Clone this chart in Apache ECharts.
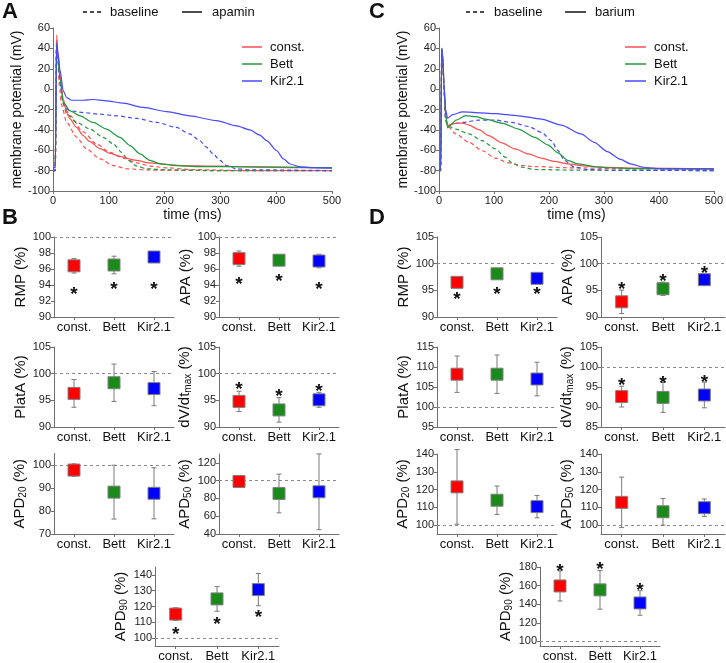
<!DOCTYPE html>
<html><head><meta charset="utf-8">
<script src="https://cdn.jsdelivr.net/npm/echarts@6/dist/echarts.min.js"></script>
<style>html,body{margin:0;padding:0;background:#fff}#c{width:726px;height:663px}</style>
</head><body><div id="c"></div>
<script>
const FONT = '"Liberation Sans", Arial, Helvetica, sans-serif';
const cats = ['const.', 'Bett', 'Kir2.1'];
const boxColors = ['#ff0000', '#1a8a1a', '#0000ff'];
const red = '#ff4f4f', green = '#1f9a3f', blue = '#4848ff';

// ---- Panel A: action potentials, baseline vs apamin [time ms, mV]
const apaConstSolid = [[0,-77],[4,-77],[6.5,53],[9,35],[12.5,14],[18.5,-10],[24.5,-23],[30,-29],[42,-37.5],[54,-45.5],[66,-51.5],[84,-58.5],[102,-63],[120,-66],[144,-69.4],[174,-72.4],[204,-74],[233,-75],[293,-75.6],[353,-76.3],[420,-77],[500,-77.3]];
const apaConstBase1 = [[0,-80],[4,-80],[6.5,48],[9,25],[11.3,3],[15.5,-16],[24.5,-32.7],[42,-47],[60,-58.7],[84,-68.5],[108,-75],[132,-78.2],[174,-79.5],[300,-80],[500,-80]];
const apaConstBase2 = [[0,-80],[4,-80],[6.5,48],[9,28],[13,5],[18.5,-15],[30.5,-26],[54,-42],[78,-53.8],[102,-62],[126,-67.8],[150,-72.4],[174,-75.6],[204,-77.3],[250,-79],[350,-80],[500,-80]];
const apaBettSolid = [[0,-77],[4,-77],[6.5,45],[9,30],[12.5,10],[18.5,-13],[30.5,-21.3],[48.4,-26.2],[72,-32.7],[96,-39.2],[120,-47.3],[138,-55.4],[156,-63.6],[174,-70],[192,-73.3],[221,-75],[263,-76],[353,-76.3],[500,-77.3]];
const apaBettBase = [[0,-80],[4,-80],[6.5,45],[9,28],[13,5],[18.5,-14],[24.5,-24.6],[42.4,-32.7],[66,-39.2],[90,-47.3],[108,-53.8],[123,-62],[135,-70],[150,-75.6],[168,-78.2],[204,-79.2],[300,-80],[500,-80]];
const apaKirSolid = [[0,-77],[4,-77],[6.5,45],[9,35],[12.5,19],[18.5,-2],[24.5,-8.3],[33.4,-10.9],[54,-10.9],[72,-10.2],[96,-11.5],[126,-13.8],[162,-18],[204,-22],[245,-26.2],[293,-31],[329,-36],[353,-40],[370,-45],[383,-50.5],[401,-60.5],[413,-68.5],[425,-73.5],[443,-76.4],[470,-77.2],[500,-77.4]];
const apaKirBase = [[0,-80],[4,-80],[6.5,45],[9,30],[13,8],[17,-10],[21.5,-18],[30.5,-21.3],[54,-23],[84,-24.6],[114,-26.2],[150,-28.8],[186,-32.7],[221,-37.6],[245,-44],[263,-50.6],[275,-57],[287,-63.6],[299,-70],[311,-75],[329,-78.2],[353,-79.2],[500,-80]];

// ---- Panel C: action potentials, baseline vs barium
const baConstSolid = [[0,-79],[3,-79],[5,40],[7,30],[9,5],[12,-25],[15.6,-36],[22,-34.5],[30.6,-33.7],[42.6,-33.3],[54.5,-35.3],[72.5,-39.8],[90.5,-45.7],[114.5,-52.8],[138.5,-58.7],[162.5,-63.6],[186.4,-67.8],[210.4,-71],[234.4,-73.3],[264,-75.3],[294,-76.6],[354,-77.6],[500,-78.2]];
const baBettSolid = [[0,-79],[3,-79],[5,40],[7,30],[9,5],[12,-25],[15.6,-38],[22,-35],[30.6,-30.5],[48.6,-26],[66.5,-27],[84.5,-29.4],[114.5,-33.3],[144.5,-39.2],[174.4,-47.3],[198.4,-54.8],[216.4,-62.6],[234.4,-70],[252.4,-73.3],[282,-76],[306,-77.2],[360,-78],[500,-78.2]];
const baKirSolid = [[0,-79],[3,-79],[5,40],[7,30],[9,5],[12,-20],[15.6,-28.5],[25,-25],[42.6,-22.3],[66,-23],[102.5,-24],[144.5,-26.2],[186.4,-29.4],[222.4,-35.3],[258.4,-44],[282.4,-52.2],[306.3,-61.3],[330.3,-69],[348.3,-73.3],[372,-76.7],[403,-78.2],[500,-78.3]];
const baConstBase = [[0,-80],[3,-80],[5,40],[7,28],[9,0],[12,-30],[15,-36],[30.6,-44],[54.5,-52.2],[78.5,-60.3],[102.5,-67.8],[126.5,-72.4],[150.5,-75],[174.5,-76],[234,-77.2],[354,-78.2],[500,-79]];
const baBettBase = [[0,-80],[3,-80],[5,40],[7,28],[9,0],[12,-30],[15.6,-36],[30.6,-39.2],[54.5,-44],[78.5,-50.6],[102.5,-58.7],[120.5,-66.8],[132.5,-72.4],[150.5,-76.6],[174.5,-78.9],[250,-79.6],[500,-80]];
const baKirBase = [[0,-80],[3,-80],[5,40],[7,28],[9,0],[12,-28],[15.6,-36],[25,-34],[42.6,-32.7],[72.5,-30.4],[102.5,-30.4],[132.5,-32.7],[162.4,-36.6],[186.4,-42.4],[204.4,-50.6],[216.4,-60.3],[228.4,-70],[246.4,-76.6],[270,-78.9],[320,-79.6],[500,-80]];

// ---- Panel B (apamin, % of baseline): mean, error, asterisk level
const apaRMP_mean = [96.4, 96.5, 97.5],   apaRMP_err = [0.9, 1.1, 0.4],   apaRMP_star = [93.4, 94.0, 94.0];
const apaAPA_mean = [97.3, 97.1, 97.0],   apaAPA_err = [0.95, 0.3, 0.85], apaAPA_star = [94.7, 95.0, 94.0];
const apaPlatA_mean = [96.3, 98.3, 97.2], apaPlatA_err = [2.6, 3.5, 3.2];
const apaDVDT_mean = [94.8, 93.2, 95.1],  apaDVDT_err = [1.9, 2.3, 1.4],  apaDVDT_star = [98.0, 96.6, 97.6];
const apaAPD20_mean = [97.8, 88.2, 87.7], apaAPD20_err = [2.7, 11.7, 11.1];
const apaAPD50_mean = [99.1, 85.6, 87.5], apaAPD50_err = [1.5, 21.8, 42.6];
const apaAPD90_mean = [115.2, 124.8, 130.7], apaAPD90_err = [4.0, 7.8, 10.2], apaAPD90_star = [105.3, 111.6, 116.2];

// ---- Panel D (barium, % of baseline)
const baRMP_mean = [96.5, 98.1, 97.25],  baRMP_err = [0.4, 0.4, 0.4],   baRMP_star = [94.15, 95.2, 95.2];
const baAPA_mean = [92.85, 95.3, 97.0],  baAPA_err = [2.2, 1.25, 1.05], baAPA_star = [96.0, 97.6, 99.1];
const baPlatA_mean = [108.2, 108.2, 107.0], baPlatA_err = [4.55, 4.8, 4.2];
const baDVDT_mean = [92.6, 92.4, 93.0],  baDVDT_err = [2.6, 3.75, 3.2], baDVDT_star = [96.6, 97.1, 97.4];
const baAPD20_mean = [121.5, 114.0, 110.4], baAPD20_err = [21, 8, 6.3];
const baAPD50_mean = [112.8, 107.5, 109.8], baAPD50_err = [14.2, 7.5, 4.9];
const baAPD90_mean = [159.6, 155.4, 141.3], baAPD90_err = [16.2, 20.8, 13.2], baAPD90_star = [180.7, 182.8, 159.6];

// tick label lists
const ticksB_APD20 = [70, 80, 90, 100];
const ticksB_APD50 = [40, 60, 80, 100, 120];
const ticksB_APD90 = [100, 110, 120, 130, 140];
const ticksD_APD = [100, 110, 120, 130, 140];
const ticksD_APD90 = [100, 120, 140, 160, 180];

const RICH = {
  n: {fontSize: 15, color: '#111', fontFamily: FONT, lineHeight: 17},
  s: {fontSize: 10, color: '#111', fontFamily: FONT, lineHeight: 10, verticalAlign: 'bottom'}
};

const grids = [], xAxes = [], yAxes = [], series = [];
const axisGray = '#6f6f6f';

function addTracePanel(box, traces) {
  const gi = grids.length;
  grids.push({left: box[0], top: box[1], width: box[2], height: box[3]});
  xAxes.push({gridIndex: gi, type: 'value', min: 0, max: 500, interval: 100,
    name: 'time (ms)', nameLocation: 'middle', nameGap: 17,
    nameTextStyle: {fontSize: 14, color: '#111', fontFamily: FONT},
    axisLine: {show: true, onZero: false, lineStyle: {color: axisGray}},
    axisTick: {show: true, length: 3, lineStyle: {color: axisGray}},
    axisLabel: {fontSize: 11, color: '#222', margin: 4, fontFamily: FONT},
    splitLine: {show: false}});
  yAxes.push({gridIndex: gi, type: 'value', min: -100, max: 60, interval: 20,
    name: 'membrane potential (mV)', nameLocation: 'middle', nameGap: 23,
    nameTextStyle: {fontSize: 14, color: '#111', fontFamily: FONT},
    axisLine: {show: true, onZero: false, lineStyle: {color: axisGray}},
    axisTick: {show: true, length: 3, lineStyle: {color: axisGray}},
    axisLabel: {fontSize: 11, color: '#222', margin: 3, fontFamily: FONT},
    splitLine: {show: false}});
  traces.forEach(t => series.push({type: 'line', xAxisIndex: gi, yAxisIndex: gi, data: t.data,
    showSymbol: false, smooth: 0.25, smoothMonotone: 'x', silent: true,
    lineStyle: {color: t.color, width: 1.2, type: t.dash ? [4, 3] : 'solid'}, z: t.dash ? 2 : 3}));
}

function renderBox(params, api) {
  const x = api.value(0), m = api.value(1), e = api.value(2);
  const c = api.coord([x, m]), t = api.coord([x, m + e]), b = api.coord([x, m - e]);
  const col = boxColors[x];
  const ec = '#7a7a7a';
  return {type: 'group', children: [
    {type: 'line', shape: {x1: c[0], y1: t[1], x2: c[0], y2: b[1]}, style: {stroke: ec, lineWidth: 1}},
    {type: 'line', shape: {x1: c[0] - 2.5, y1: t[1], x2: c[0] + 2.5, y2: t[1]}, style: {stroke: ec, lineWidth: 1}},
    {type: 'line', shape: {x1: c[0] - 2.5, y1: b[1], x2: c[0] + 2.5, y2: b[1]}, style: {stroke: ec, lineWidth: 1}},
    {type: 'rect', shape: {x: c[0] - 6, y: c[1] - 6, width: 12, height: 12}, style: {fill: col, stroke: '#808080', lineWidth: 1}}
  ]};
}
function renderStar(params, api) {
  const p = api.coord([api.value(0), api.value(1)]);
  return {type: 'text', x: p[0], y: p[1] + 5, style: {text: '*', fontSize: 19, fontWeight: 'bold', fontFamily: FONT, fill: '#111', align: 'center', verticalAlign: 'middle'}};
}

function addBoxPanel(p) {
  const gi = grids.length;
  grids.push({left: p.box[0], top: p.box[1], width: p.box[2], height: p.box[3]});
  xAxes.push({gridIndex: gi, type: 'category', data: cats, boundaryGap: true,
    axisLine: {show: true, onZero: false, lineStyle: {color: axisGray}},
    axisTick: {show: true, alignWithLabel: true, length: 3, lineStyle: {color: axisGray}},
    axisLabel: {fontSize: 13, color: '#111', margin: 4, interval: 0, fontFamily: FONT},
    splitLine: {show: false}});
  const ya = {gridIndex: gi, type: 'value', min: p.min, max: p.max, interval: p.interval,
    axisLine: {show: true, onZero: false, lineStyle: {color: axisGray}},
    axisTick: {show: true, length: 3, lineStyle: {color: axisGray}},
    axisLabel: {fontSize: 11, color: '#222', margin: 3, fontFamily: FONT},
    splitLine: {show: false},
    name: p.name, nameLocation: 'middle', nameGap: p.gap, nameTextStyle: {rich: RICH}};
  if (p.ticks) { ya.axisLabel.customValues = p.ticks; ya.axisTick.customValues = p.ticks; }
  yAxes.push(ya);
  series.push({type: 'scatter', xAxisIndex: gi, yAxisIndex: gi, data: [], silent: true, z: 1,
    markLine: {silent: true, symbol: 'none', animation: false, label: {show: false},
      lineStyle: {color: '#8a8a8a', type: [3, 3], width: 1}, data: [{yAxis: 100}]}});
  series.push({type: 'custom', xAxisIndex: gi, yAxisIndex: gi, silent: true, z: 5,
    encode: {x: 0, y: 1}, renderItem: renderBox,
    data: p.mean.map((m, i) => [i, m, p.err[i]])});
  if (p.star) series.push({type: 'custom', xAxisIndex: gi, yAxisIndex: gi, silent: true, z: 6,
    encode: {x: 0, y: 1}, renderItem: renderStar,
    data: p.star.map((v, i) => [i, v])});
}

addTracePanel([53, 28, 279, 163], [
  {data: apaConstBase1, color: red, dash: true}, {data: apaConstBase2, color: red, dash: true},
  {data: apaBettBase, color: green, dash: true}, {data: apaKirBase, color: blue, dash: true},
  {data: apaConstSolid, color: red}, {data: apaBettSolid, color: green}, {data: apaKirSolid, color: blue}]);
addTracePanel([439, 28, 278, 163], [
  {data: baConstBase, color: red, dash: true}, {data: baBettBase, color: green, dash: true},
  {data: baKirBase, color: blue, dash: true},
  {data: baConstSolid, color: red}, {data: baBettSolid, color: green}, {data: baKirSolid, color: blue}]);

const L = 54, R = 219, DL = 437, DR = 601;
[
  {box: [L, 237, 120, 80], min: 90, max: 100, interval: 2, name: '{n|RMP (%)}', gap: 21, mean: apaRMP_mean, err: apaRMP_err, star: apaRMP_star},
  {box: [R, 237, 120, 80], min: 90, max: 100, interval: 2, name: '{n|APA (%)}', gap: 19, mean: apaAPA_mean, err: apaAPA_err, star: apaAPA_star},
  {box: [L, 347, 120, 80], min: 90, max: 105, interval: 5, name: '{n|PlatA (%)}', gap: 21, mean: apaPlatA_mean, err: apaPlatA_err},
  {box: [R, 347, 120, 80], min: 90, max: 105, interval: 5, name: '{n|dV/dt}{s|max}{n| (%)}', gap: 17, mean: apaDVDT_mean, err: apaDVDT_err, star: apaDVDT_star},
  {box: [L, 453.5, 120, 80.5], min: 70, max: 105, interval: 10, ticks: ticksB_APD20, name: '{n|APD}{s|20}{n| (%)}', gap: 21, mean: apaAPD20_mean, err: apaAPD20_err},
  {box: [R, 454, 120, 80], min: 40, max: 130, interval: 20, ticks: ticksB_APD50, name: '{n|APD}{s|50}{n| (%)}', gap: 19, mean: apaAPD50_mean, err: apaAPD50_err},
  {box: [155, 567, 124, 79], min: 95, max: 145, interval: 5, ticks: ticksB_APD90, name: '{n|APD}{s|90}{n| (%)}', gap: 19, mean: apaAPD90_mean, err: apaAPD90_err, star: apaAPD90_star},
  {box: [DL, 237, 120, 80], min: 90, max: 105, interval: 5, name: '{n|RMP (%)}', gap: 21, mean: baRMP_mean, err: baRMP_err, star: baRMP_star},
  {box: [DR, 237, 124, 80], min: 90, max: 105, interval: 5, name: '{n|APA (%)}', gap: 17, mean: baAPA_mean, err: baAPA_err, star: baAPA_star},
  {box: [DL, 347, 120, 80], min: 95, max: 115, interval: 5, name: '{n|PlatA (%)}', gap: 21, mean: baPlatA_mean, err: baPlatA_err},
  {box: [DR, 347, 124, 80], min: 85, max: 105, interval: 5, name: '{n|dV/dt}{s|max}{n| (%)}', gap: 17, mean: baDVDT_mean, err: baDVDT_err, star: baDVDT_star},
  {box: [DL, 454, 120, 80], min: 95, max: 140, interval: 5, ticks: ticksD_APD, name: '{n|APD}{s|20}{n| (%)}', gap: 21, mean: baAPD20_mean, err: baAPD20_err},
  {box: [DR, 454, 124, 80], min: 95, max: 140, interval: 5, ticks: ticksD_APD, name: '{n|APD}{s|50}{n| (%)}', gap: 17, mean: baAPD50_mean, err: baAPD50_err},
  {box: [540, 567, 120, 79.5], min: 95, max: 180, interval: 5, ticks: ticksD_APD90, name: '{n|APD}{s|90}{n| (%)}', gap: 21, mean: baAPD90_mean, err: baAPD90_err, star: baAPD90_star}
].forEach(addBoxPanel);

function legendLine(x1, x2, y, color, dash) {
  return {type: 'line', shape: {x1: x1, y1: y, x2: x2, y2: y}, style: {stroke: color, lineWidth: 1.5, lineDash: dash ? [4, 3] : null}, silent: true};
}
function legendText(x, y, text, size, bold) {
  return {type: 'text', x: x, y: y, style: {text: text, fontSize: size || 13, fontWeight: bold ? 'bold' : 'normal', fontFamily: FONT, fill: '#111', align: 'left', verticalAlign: 'middle'}, silent: true};
}
const graphics = [
  legendText(2, 12, 'A', 22, true), legendText(369, 12, 'C', 22, true),
  legendText(2, 218, 'B', 22, true), legendText(369, 218, 'D', 22, true),
  legendLine(83, 103, 12, '#111', true), legendText(110, 12, 'baseline'),
  legendLine(182, 202, 12, '#111', false), legendText(212, 12, 'apamin'),
  legendLine(466, 486, 12, '#111', true), legendText(494, 12, 'baseline'),
  legendLine(565, 586, 12, '#111', false), legendText(595, 12, 'barium'),
  legendLine(242, 262, 47, red), legendText(270, 47, 'const.'),
  legendLine(242, 262, 64, green), legendText(270, 64, 'Bett'),
  legendLine(242, 262, 81, blue), legendText(270, 81, 'Kir2.1'),
  legendLine(625, 646, 47, red), legendText(654, 47, 'const.'),
  legendLine(625, 646, 64, green), legendText(654, 64, 'Bett'),
  legendLine(625, 646, 81, blue), legendText(654, 81, 'Kir2.1')
];

const chart = echarts.init(document.getElementById('c'), null, {renderer: 'canvas'});
chart.setOption({
  animation: false,
  backgroundColor: '#fff',
  textStyle: {fontFamily: FONT},
  grid: grids, xAxis: xAxes, yAxis: yAxes, series: series,
  graphic: {elements: graphics}
});
</script></body></html>
